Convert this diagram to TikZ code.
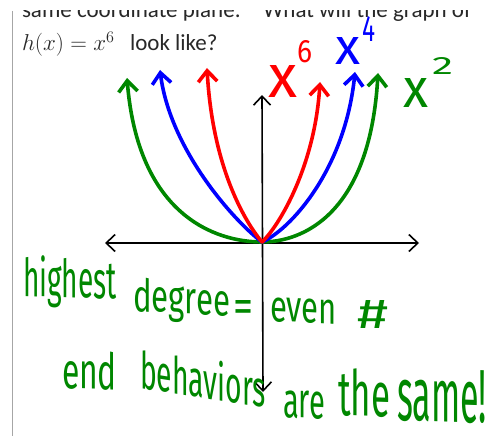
\RequirePackage{fix-cm}
\documentclass[tikz,border=0pt]{standalone}
\usepackage[no-math]{fontspec}
\setmainfont{Carlito}
\newfontfamily\handfont{Fira Sans}
\usetikzlibrary{arrows.meta}
\definecolor{pengreen}{RGB}{0,135,0}
\definecolor{penblue}{RGB}{0,0,255}
\definecolor{penred}{RGB}{255,0,0}
\definecolor{printtext}{RGB}{40,40,40}
\newsavebox\hwbox
\newcommand{\hwfont}{\handfont\fontsize{30}{36}\selectfont}
% #1 name, #2 colour, #3 position, #4 width, #5 height, #6 baseline angle, #7 text
\newcommand{\hwnode}[7]{%
  \pgfinterruptpicture
    \global\setbox\hwbox=\hbox{\hwfont #7}%
  \endpgfinterruptpicture
  \pgfmathsetmacro\hwsx{#4/max(1,\the\wd\hwbox)}%
  \pgfmathsetmacro\hwsy{#5/max(1,\the\ht\hwbox)}%
  \pgfmathsetmacro\hwsl{tan(#6)}%
  \node[handtext, text=#2, yslant=\hwsl, xscale=\hwsx, yscale=\hwsy] (#1) at #3
    {\hwfont #7};%
}
\tikzset{
  axisline/.style={line width=1.6pt, black, line cap=round,
    {Straight Barb[length=9pt,width=17pt]}-{Straight Barb[length=9pt,width=17pt]}},
  curve/.style={line width=3.6pt, line cap=round, line join=round,
    -{Straight Barb[length=11pt,width=19pt]}},
  handtext/.style={anchor=base west, inner sep=0pt, outer sep=0pt},
  printed/.style={anchor=base west, inner sep=0pt, outer sep=0pt, text=printtext,
    font=\fontsize{23}{27}\selectfont},
}
\begin{document}
\begin{tikzpicture}[x=1pt,y=-1pt]
\useasboundingbox (0,0) rectangle (498,436);
\fill[white] (0,0) rectangle (498,436);

% page border
\draw[gray!70, line width=1pt] (12,11) -- (12,436);

% printed text
\begin{scope}
  \clip (0,11) rectangle (498,436);
  \node[printed] (t1) at (22,18) {same coordinate plane.};
  \node[printed] (t2) at (263,18) {What will the graph of};
\end{scope}
\node[printed] (t3) at (22,51) {$h(x) = x^6$};
\node[printed] (t4) at (130,51) {look like?};

% axes
\coordinate (O) at (262,242);
\coordinate (xl) at (105,243);
\coordinate (xr) at (419,243);
\coordinate (yt) at (262,95);
\coordinate (yb) at (263,392);
\draw[axisline] (xl) -- (xr);
\draw[axisline] (yb) -- (yt);

% curves (x^2 green, x^4 blue, x^6 red)
\coordinate (g1) at (127,78);  \coordinate (g2) at (378,73);
\coordinate (b1) at (160,70);  \coordinate (b2) at (355,72);
\coordinate (r1) at (207,68);  \coordinate (r2) at (320,82);
\draw[curve, pengreen] (O) .. controls (215,242) and (138,215) .. (g1);
\draw[curve, pengreen] (O) .. controls (302,242) and (370,215) .. (g2);
\draw[curve, penblue] (O) .. controls (235,222) and (170,150) .. (b1);
\draw[curve, penblue] (O) .. controls (290,230) and (345,170) .. (b2);
\draw[curve, penred] (O) .. controls (250,228) and (213,175) .. (r1);
\draw[curve, penred] (O) .. controls (280,225) and (315,165) .. (r2);

% curve labels
\hwnode{lx6}{penred}{(268,97)}{29}{32}{0}{x}
\hwnode{l6}{penred}{(297,62)}{15}{22}{0}{6}
\hwnode{lx4}{penblue}{(335,65)}{25}{27}{0}{x}
\hwnode{l4}{penblue}{(362,42)}{13}{25}{0}{4}
\hwnode{lx2}{pengreen}{(403,107)}{25}{29}{0}{x}
\hwnode{l2}{pengreen}{(432,75)}{21}{17}{0}{2}

% handwriting
\hwnode{w1}{pengreen}{(23,296)}{94}{41}{-2}{highest}
\hwnode{w2}{pengreen}{(133,311)}{97}{34}{-3}{degree}
\hwnode{w3}{pengreen}{(233,322)}{20}{22}{0}{=}
\hwnode{w4}{pengreen}{(270,321)}{67}{24}{-3}{even}
\hwnode{w5}{pengreen}{(357,328)}{31}{28}{0}{\#}
\hwnode{w6}{pengreen}{(62,388)}{55}{38}{-2}{end}
\hwnode{w7}{pengreen}{(140,388)}{126}{40}{-9}{behaviors}
\hwnode{w8}{pengreen}{(283,417)}{42}{27}{-3}{are}
\hwnode{w9}{pengreen}{(338,415)}{52}{47}{-2}{the}
\hwnode{w10}{pengreen}{(397,420)}{90}{52}{-2}{same!}
\end{tikzpicture}
\end{document}
